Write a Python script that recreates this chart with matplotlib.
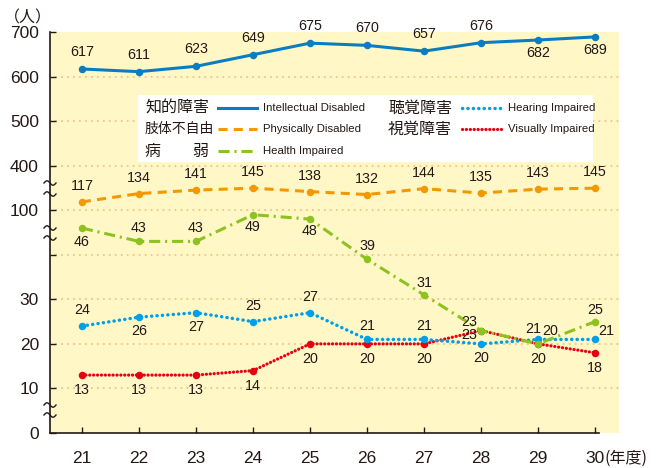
import matplotlib
matplotlib.use("Agg")
import matplotlib.pyplot as plt
import numpy as np
from matplotlib.lines import Line2D
from matplotlib.patches import Rectangle

# data (年度 21-30)
years = [21, 22, 23, 24, 25, 26, 27, 28, 29, 30]
intellectual = [617, 611, 623, 649, 675, 670, 657, 676, 682, 689]
physical = [117, 134, 141, 145, 138, 132, 144, 135, 143, 145]
health = [46, 43, 43, 49, 48, 39, 31, 23, 20, 25]
hearing = [24, 26, 27, 25, 27, 21, 21, 20, 21, 21]
visual = [13, 13, 13, 14, 20, 20, 20, 23, 20, 18]

y_ticks = [0, 10, 20, 30, 40, 100, 400, 500, 600, 700]
y_ticklabels = ["0", "10", "20", "30", "", "100", "400", "500", "600", "700"]

W, H = 660, 468
NARROW = ["Liberation Sans Narrow", "Liberation Sans", "DejaVu Sans"]
JP = ["Noto Sans CJK JP", "DejaVu Sans"]

plt.rcParams["font.family"] = ["Liberation Sans", "Noto Sans CJK JP", "DejaVu Sans"]
plt.rcParams["lines.scale_dashes"] = False

# broken axis: piecewise linear scale
VB = [0, 49.5, 100, 150, 400, 700]
DB = [0, 49.5, 50, 55.5, 60, 90]


def fwd(v):
    return np.interp(v, VB, DB)


def inv(d):
    return np.interp(d, DB, VB)


def fx(px):
    return px / W


def fy(py):
    return 1 - py / H


INK = "#231815"
fig = plt.figure(figsize=(W / 100, H / 100), dpi=100)
ax = fig.add_axes([fx(50), 35 / H, 569 / W, 401 / H])
ax.set_facecolor("#FFF8C6")
ax.set_yscale("function", functions=(fwd, inv))
ax.set_ylim(0, 700)
ax.set_xlim(20.44, 30.42)

for g in [10, 20, 30, 40, 100, 400, 500, 600]:
    ax.axhline(g, color="#F6C48A", lw=1.5, linestyle=(0, (0.1, 4.2)),
               dash_capstyle="round", zorder=0.5)

for s in ["top", "right"]:
    ax.spines[s].set_visible(False)
for s in ["left", "bottom"]:
    ax.spines[s].set_color(INK)
    ax.spines[s].set_linewidth(1.2)
ax.spines["bottom"].set_bounds(20.44, 30.07)

ax.set_yticks(y_ticks)
ax.set_yticklabels(y_ticklabels)
ax.yaxis.set_minor_locator(matplotlib.ticker.NullLocator())
ax.set_xticks(years)
ax.set_xticklabels([str(y) for y in years])
ax.tick_params(direction="in", length=4, width=1, color=INK, labelsize=12.5,
               labelcolor=INK)
ax.tick_params(axis="y", pad=8)
ax.tick_params(axis="x", pad=13)

A, B = (0, 16), (0, -15)
series = [
    (visual, "#E60012", dict(ls=(0, (0.1, 2.7)), lw=2.3, dash_capstyle="round"),
     [B, B, B, B, B, B, B, (-12, -4), B, B]),
    (hearing, "#00A0E9", dict(ls=(0, (0.1, 3.8)), lw=2.5, dash_capstyle="round"),
     [A, (0, -14), (0, -14), A, A, (0, 13), (0, 13), (0, -14), (-5, 10), (11, 8)]),
    (health, "#8DC21F", dict(ls=(0, (8, 3.5, 1.5, 3.5)), lw=2.2),
     [(0, -14), (0, 13), (0, 13), (0, -12), (0, -12), (0, 13), (0, 12),
      (-12, 9), (12, 13), (0, 12)]),
    (physical, "#F39800", dict(ls=(0, (6.5, 4.5)), lw=2.2), [A] * 10),
    (intellectual, "#0A7CC2", dict(ls="-", lw=2.2), [(0, 17)] * 8 + [(0, -13)] * 2),
]

for vals, col, style, offs in series:
    ax.plot(years, vals, color=col, marker="o", markersize=5.4,
            markeredgewidth=0, **style)
    for x, v, (dx, dy) in zip(years, vals, offs):
        ax.annotate(str(v), (x, v), xytext=(dx * 0.72, dy * 0.72),
                    textcoords="offset points", ha="center", va="center",
                    fontsize=10.3, family=NARROW, color=INK)

# axis break marks
t = np.linspace(0, 2 * np.pi, 30)
for yb in [183, 194, 228, 238, 405, 415]:
    fig.add_artist(Line2D(fx(44 + t / (2 * np.pi) * 12),
                          fy(yb - 2.2 * np.sin(t)), color=INK, lw=1))

# unit labels
fig.text(fx(4), fy(18), "（人）", fontsize=11.5, family=JP, color=INK,
         ha="left", va="center")
fig.text(fx(605), fy(458), "(年度)", fontsize=11.5, family=JP, color=INK,
         ha="left", va="center")

# legend
fig.add_artist(Rectangle((fx(138), fy(162)), (593 - 138) / W, 67 / H,
                         facecolor="white", edgecolor="none"))
legend = [
    ("知的障害", 11.5, "Intellectual Disabled", 145, 218, 263, 108, series[4]),
    ("肢体不自由", 10, "Physically Disabled", 145, 218, 263, 129, series[3]),
    ("病　　弱", 11.5, "Health Impaired", 145, 218, 263, 151, series[2]),
    ("聴覚障害", 11.5, "Hearing Impaired", 388, 462, 508, 108, series[1]),
    ("視覚障害", 11.5, "Visually Impaired", 388, 462, 508, 129, series[0]),
]
for jp, jsize, en, xj, xl, xe, yr, (vals, col, style, offs) in legend:
    fig.text(fx(xj), fy(yr), jp, fontsize=jsize, family=JP, color=INK,
             ha="left", va="center")
    fig.add_artist(Line2D([fx(xl), fx(xl + 39)], [fy(yr), fy(yr)], color=col,
                          **style))
    fig.text(fx(xe), fy(yr), en, fontsize=8.2, family=NARROW, color=INK,
             ha="left", va="center")

fig.savefig("out.png", dpi=100)
